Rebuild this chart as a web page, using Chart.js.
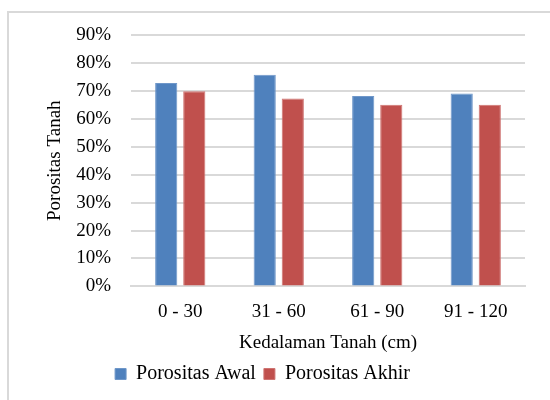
<!DOCTYPE html>
<html>
<head>
<meta charset="utf-8">
<script src="https://cdn.jsdelivr.net/npm/chart.js@4"></script>
<style>
  body { margin: 0; background: #fff; }
  #wrap { position: relative; width: 550px; height: 400px; }
  #frame {
    position: absolute; left: 7px; top: 11px; right: -5px; bottom: -5px;
    border-left: 2px solid #d9d9d9; border-top: 2px solid #d9d9d9;
  }
  canvas { position: absolute; left: 0; top: 0; }
</style>
</head>
<body>
<div id="wrap">
  <div id="frame"></div>
  <canvas id="chart" width="550" height="400"></canvas>
</div>
<script>
const categories = ["0 - 30", "31 - 60", "61 - 90", "91 - 120"];
const porositasAwal = [72.8, 75.8, 68.2, 69.1];
const porositasAkhir = [69.9, 67.3, 65.0, 65.0];
const yTicks = [0, 10, 20, 30, 40, 50, 60, 70, 80, 90];

const serif = "'Liberation Serif', 'Times New Roman', serif";
Chart.defaults.font.family = serif;
Chart.defaults.font.size = 19;
Chart.defaults.color = "#000";

const ctx = document.getElementById("chart");
new Chart(ctx, {
  type: "bar",
  data: {
    labels: categories,
    datasets: [
      {
        label: "Porositas Awal",
        data: porositasAwal,
        backgroundColor: "#4f81bd",
        borderColor: "#6f97c9",
        borderWidth: 1,
        categoryPercentage: 0.57,
        barPercentage: 0.79,
      },
      {
        label: "Porositas Akhir",
        data: porositasAkhir,
        backgroundColor: "#c0504d",
        borderColor: "#cf7472",
        borderWidth: 1,
        categoryPercentage: 0.57,
        barPercentage: 0.79,
      },
    ],
  },
  options: {
    responsive: false,
    animation: false,
    layout: { padding: { left: 0, right: 25, top: 35, bottom: 6 } },
    plugins: {
      tooltip: { enabled: false },
      legend: {
        position: "bottom",
        labels: {
          boxWidth: 11,
          boxHeight: 11,
          padding: 8,
          font: { size: 20 },
        },
      },
    },
    scales: {
      x: {
        grid: { display: false },
        border: { display: true, color: "#d9d9d9", width: 2 },
        ticks: { padding: 6 },
        title: {
          display: true,
          text: "Kedalaman Tanah (cm)",
          padding: { top: 2, bottom: 2 },
        },
      },
      y: {
        min: 0,
        max: 90,
        afterFit: (scale) => {
          scale.width = 131;
        },
        afterBuildTicks: (scale) => {
          scale.ticks = yTicks.map((v) => ({ value: v }));
        },
        border: { display: false },
        grid: { color: "#d9d9d9", lineWidth: 2, drawTicks: false },
        ticks: {
          padding: 20,
          callback: (v) => v + "%",
        },
        title: {
          display: true,
          text: "Porositas Tanah",
          padding: { top: 44, bottom: 0 },
        },
      },
    },
  },
});
</script>
</body>
</html>
